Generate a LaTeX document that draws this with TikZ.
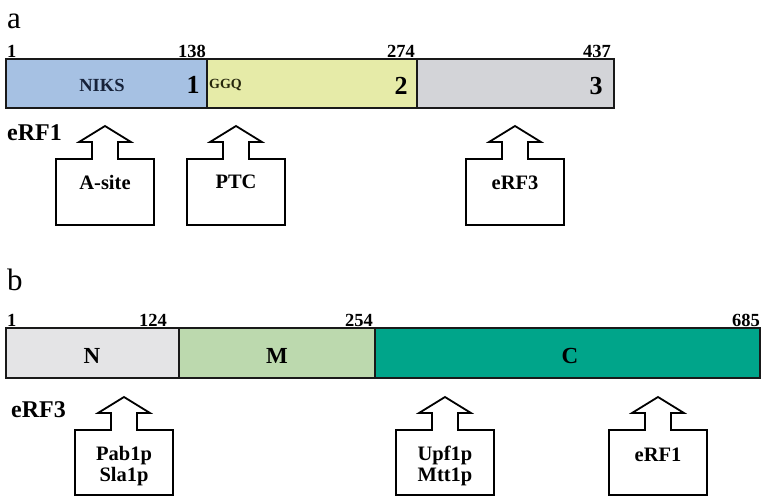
\documentclass[tikz,border=0pt]{standalone}
\usepackage{fontspec}
\setmainfont{Liberation Serif}
\definecolor{dblue}{HTML}{A6C1E3}
\definecolor{dyellow}{HTML}{E6EBA8}
\definecolor{dgrey}{HTML}{D3D4D8}
\definecolor{ngrey}{HTML}{E4E4E6}
\definecolor{mgreen}{HTML}{BCD9AE}
\definecolor{cteal}{HTML}{00A58A}
\definecolor{navy}{HTML}{16223A}
\definecolor{olive}{HTML}{26260C}
\tikzset{
  barline/.style={draw=black!90, line width=1.8pt},
  divline/.style={draw=black!90, line width=2.2pt},
  num/.style={font=\bfseries\fontsize{18.5}{18.5}\selectfont, inner sep=0pt},
  domnum/.style={font=\bfseries\fontsize{26}{26}\selectfont, inner sep=0pt},
  domlab/.style={font=\bfseries\fontsize{23}{23}\selectfont, inner sep=0pt},
  panel/.style={font=\fontsize{31}{31}\selectfont, inner sep=0pt},
  protlab/.style={font=\bfseries\fontsize{24}{24}\selectfont, inner sep=0pt},
  boxtext/.style={font=\bfseries\fontsize{20.5}{21}\selectfont, inner sep=0pt, align=center},
  calloutline/.style={draw=black, line width=1.8pt, fill=white, line join=miter},
  callout/.pic={\path[calloutline] (0,0) -- (26,16) -- (13,16) -- (13,33) -- (49,33) -- (49,99) -- (-49,99) -- (-49,33) -- (-13,33) -- (-13,16) -- (-26,16) -- cycle;},
  calloutb/.pic={\path[calloutline] (0,0) -- (26,16) -- (13,16) -- (13,33) -- (49,33) -- (49,98) -- (-49,98) -- (-49,33) -- (-13,33) -- (-13,16) -- (-26,16) -- cycle;}
}
\begin{document}
\begin{tikzpicture}[x=1pt,y=-1pt]
\useasboundingbox (0,0) rectangle (761,498);
\fill[white] (0,0) rectangle (761,498);
% ---------- panel a ----------
\node[panel, anchor=base west] (la) at (7,28) {a};
\fill[dblue] (6,59) rectangle (207,108);
\fill[dyellow] (207,59) rectangle (417,108);
\fill[dgrey] (417,59) rectangle (614,108);
\draw[barline] (6,59) rectangle (614,108);
\draw[divline] (207,59) -- (207,108);
\draw[divline] (417,59) -- (417,108);
\node[num, anchor=base west] (a1) at (7,57) {1};
\node[num, anchor=base east] (a138) at (206,57) {138};
\node[num, anchor=base east] (a274) at (415,57) {274};
\node[num, anchor=base east] (a437) at (611,57) {437};
\node[font=\bfseries\fontsize{18.5}{18.5}\selectfont, text=navy, inner sep=0pt] (niks) at (102,85) {NIKS};
\node[domnum] (d1) at (193,85) {1};
\node[font=\bfseries\fontsize{14}{14}\selectfont, text=olive, inner sep=0pt, anchor=west] (ggq) at (209,85) {GGQ};
\node[domnum] (d2) at (401,86) {2};
\node[domnum] (d3) at (596,86) {3};
\node[protlab, anchor=base west] (erf1) at (7,140) {eRF1};
\pic at (105,126) {callout};
\pic at (236,126) {callout};
\pic at (515,126) {callout};
\node[boxtext] (asite) at (105,182) {A-site};
\node[boxtext] (ptc) at (236,182) {PTC};
\node[boxtext] (erf3t) at (515,183) {eRF3};
% ---------- panel b ----------
\node[panel, anchor=base west] (lb) at (7,290) {b};
\fill[ngrey] (6,328) rectangle (179,378);
\fill[mgreen] (179,328) rectangle (375,378);
\fill[cteal] (375,328) rectangle (760,378);
\draw[barline] (6,328) rectangle (760,378);
\draw[divline] (179,328) -- (179,378);
\draw[divline] (375,328) -- (375,378);
\node[num, anchor=base west] (b1) at (7,326) {1};
\node[num, anchor=base east] (b124) at (167,326) {124};
\node[num, anchor=base east] (b254) at (373,326) {254};
\node[num, anchor=base east] (b685) at (760,326) {685};
\node[domlab] (dn) at (92,356) {N};
\node[domlab] (dm) at (277,356) {M};
\node[domlab] (dc) at (570,356) {C};
\node[protlab, anchor=base west] (erf3) at (11,417) {eRF3};
\pic at (124,397) {calloutb};
\pic at (445,397) {calloutb};
\pic at (658,397) {calloutb};
\node[boxtext] (pab) at (124,466) {Pab1p\\Sla1p};
\node[boxtext] (upf) at (445,466) {Upf1p\\Mtt1p};
\node[boxtext] (erf1t) at (658,455) {eRF1};
\end{tikzpicture}
\end{document}
